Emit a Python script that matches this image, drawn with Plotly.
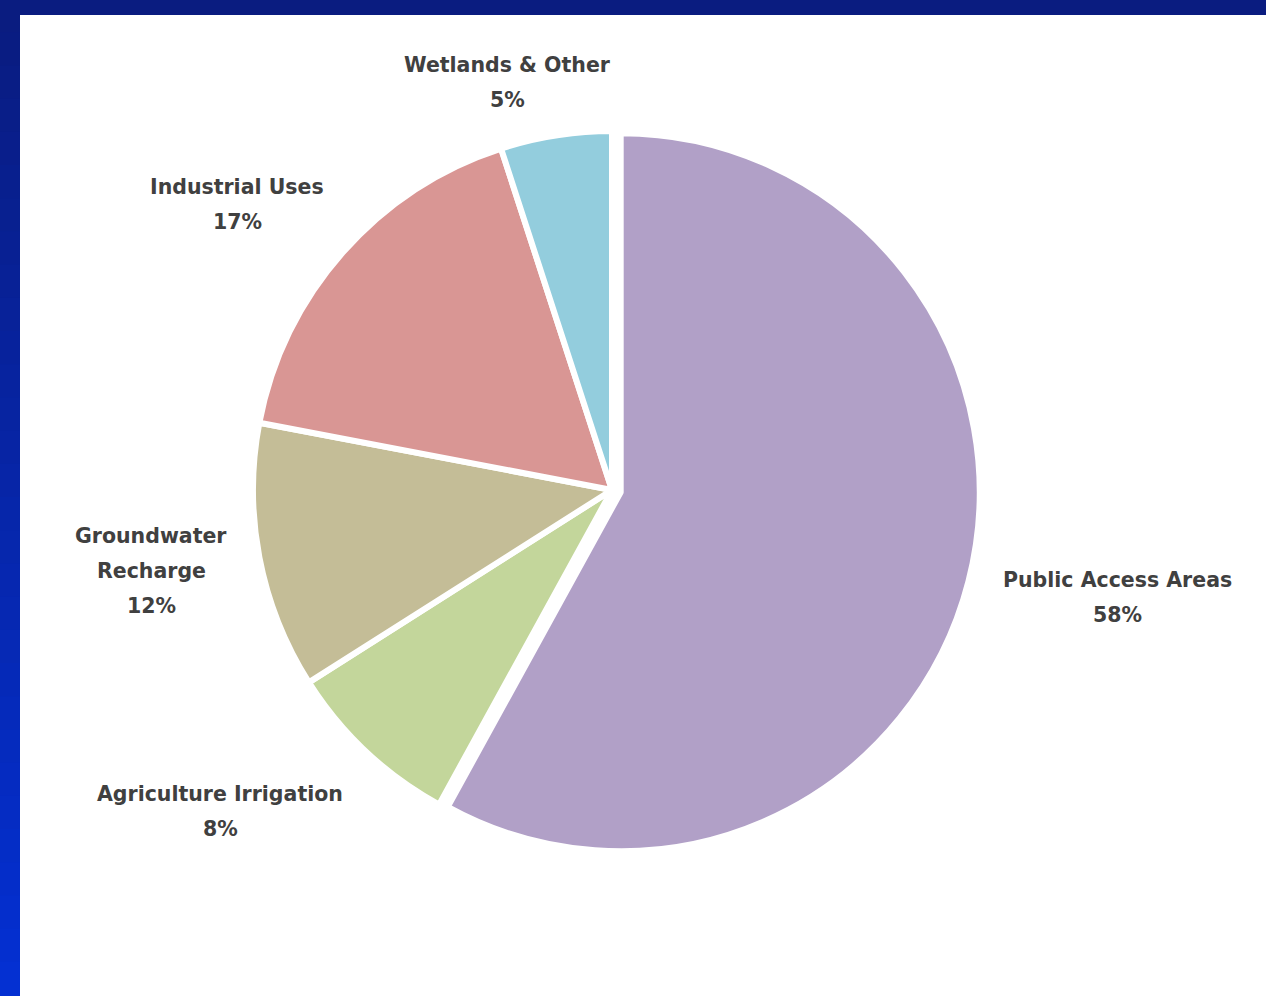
import plotly.graph_objects as go

# ---- data ----
labels = ["Public Access Areas", "Agriculture Irrigation", "Groundwater<br>Recharge",
          "Industrial Uses", "Wetlands & Other"]
values = [58, 8, 12, 17, 5]
colors = ["#B1A0C7", "#C3D69B", "#C4BD97", "#D99694", "#93CDDD"]

# label anchor positions (pixels from top-left), styling only
label_pos = [(1117, 580), (220, 794), (151, 536), (237, 187), (507, 65)]

W, H = 1266, 996
cx, cy, R = 612, 490, 359
pull_main = 0.025
half = R * (1 + pull_main)

fig = go.Figure()
fig.add_trace(go.Pie(
    labels=labels, values=values, sort=False, direction="clockwise", rotation=0,
    marker=dict(colors=colors, line=dict(color="white", width=6)),
    textinfo="none", hoverinfo="label+percent", showlegend=False,
    pull=[pull_main, 0, 0, 0, 0],
    domain=dict(x=[(cx - half) / W, (cx + half) / W],
                y=[(H - cy - half) / H, (H - cy + half) / H]),
))

ann = []
line_h = 35
for lab, v, (x, y) in zip(labels, values, label_pos):
    lines = lab.split("<br>") + [f"{v}%"]
    for i, t in enumerate(lines):
        ann.append(dict(x=x / W, y=1 - (y + i * line_h) / H, xref="paper", yref="paper",
                        text=t, showarrow=False, xanchor="center", yanchor="middle",
                        font=dict(family="DejaVu Sans", size=20.5, color="#404040",
                                  weight="bold")))

shapes = []
# top dark band
shapes.append(dict(type="rect", xref="paper", yref="paper", x0=0, x1=1,
                   y0=1 - 15 / H, y1=1, fillcolor="#0A1C80", line=dict(width=0), layer="above"))
# left band with vertical gradient
n = 30
c0 = (10, 28, 128)
c1 = (4, 48, 210)
for k in range(n):
    t = k / (n - 1)
    c = tuple(int(c0[j] + (c1[j] - c0[j]) * t) for j in range(3))
    shapes.append(dict(type="rect", xref="paper", yref="paper", x0=0, x1=20 / W,
                       y0=1 - (k + 1) / n, y1=1 - k / n + 0.001,
                       fillcolor=f"rgb{c}", line=dict(width=0), layer="above"))

fig.update_layout(
    width=W, height=H, margin=dict(l=0, r=0, t=0, b=0),
    paper_bgcolor="white", plot_bgcolor="white",
    annotations=ann, shapes=shapes,
)

fig.write_html("out.html")
